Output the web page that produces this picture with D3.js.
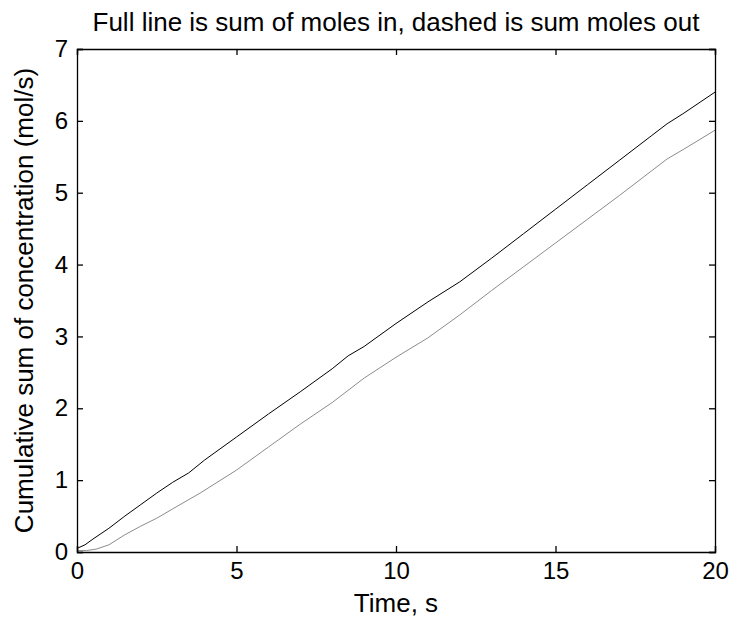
<!DOCTYPE html>
<html>
<head>
<meta charset="utf-8">
<script src="https://cdn.jsdelivr.net/npm/d3@7"></script>
<style>
  body { margin: 0; background: #fff; }
  text { font-family: "Liberation Sans", Arial, sans-serif; fill: #000; }
</style>
</head>
<body>
<svg id="chart"></svg>
<script>
// data
const timeIn = [0, 0.25, 0.5, 1, 1.5, 2, 2.5, 3, 3.5, 4, 5, 6, 7, 8, 8.5, 9, 10, 11, 12, 13, 14, 15, 16, 17, 18, 18.5, 19, 20];
const molesIn = [0.05, 0.1, 0.18, 0.33, 0.5, 0.66, 0.82, 0.97, 1.1, 1.28, 1.6, 1.92, 2.23, 2.55, 2.73, 2.86, 3.18, 3.48, 3.76, 4.09, 4.43, 4.77, 5.11, 5.45, 5.79, 5.96, 6.1, 6.4];
const timeOut = [0, 0.3, 0.6, 1, 1.5, 2, 2.5, 3, 3.86, 5, 6, 7, 8, 9, 10, 11, 12, 13, 14, 15, 16, 17, 18, 18.5, 19, 20];
const molesOut = [0.02, 0.02, 0.04, 0.1, 0.24, 0.36, 0.47, 0.6, 0.82, 1.14, 1.46, 1.78, 2.08, 2.42, 2.71, 2.98, 3.3, 3.64, 3.97, 4.3, 4.63, 4.96, 5.3, 5.47, 5.6, 5.87];
const xTicks = [0, 5, 10, 15, 20];
const yTicks = [0, 1, 2, 3, 4, 5, 6, 7];

const width = 733, height = 628;
const margin = { top: 49, right: 18, bottom: 76, left: 77 };

let svg = d3.select("#chart").attr("width", width).attr("height", height);

let x = d3.scaleLinear().domain([0, 20]).range([margin.left, width - margin.right]);
let y = d3.scaleLinear().domain([0, 7]).range([height - margin.bottom, margin.top]);

// lines
let line = d3.line().x(d => x(d[0])).y(d => y(d[1]));
svg.append("path")
  .datum(d3.zip(timeOut, molesOut))
  .attr("d", line)
  .style("fill", "none")
  .style("stroke", "#8c8c8c")
  .style("stroke-width", 1);
svg.append("path")
  .datum(d3.zip(timeIn, molesIn))
  .attr("d", line)
  .style("fill", "none")
  .style("stroke", "#000")
  .style("stroke-width", 1);

// axes, ticks drawn inward on all four sides
const tk = 6;
const fmt = d3.format("d");
svg.append("g")
  .attr("transform", `translate(0,${y(0)})`)
  .call(d3.axisBottom(x).tickValues(xTicks).tickFormat(fmt).tickSize(-tk).tickPadding(10))
  .call(g => g.selectAll("text").style("font-size", "24px").attr("dy", "0.71em"));
svg.append("g")
  .attr("transform", `translate(0,${y(7)})`)
  .call(d3.axisTop(x).tickValues(xTicks).tickSize(-tk).tickFormat(""));
svg.append("g")
  .attr("transform", `translate(${x(0)},0)`)
  .call(d3.axisLeft(y).tickValues(yTicks).tickFormat(fmt).tickSize(-tk).tickPadding(9))
  .call(g => g.selectAll("text").style("font-size", "24px"));
svg.append("g")
  .attr("transform", `translate(${x(20)},0)`)
  .call(d3.axisRight(y).tickValues(yTicks).tickSize(-tk).tickFormat(""));

svg.selectAll(".domain").style("stroke", "#000").style("stroke-width", 1.3);
svg.selectAll(".tick line").style("stroke", "#000").style("stroke-width", 1.3);
svg.selectAll(".tick text").style("font-family", "'Liberation Sans', Arial, sans-serif").style("fill", "#000");

// title and labels
svg.append("text")
  .attr("x", (x(0) + x(20)) / 2)
  .attr("y", 31)
  .attr("text-anchor", "middle")
  .style("font-size", "26px")
  .text("Full line is sum of moles in, dashed is sum moles out");

svg.append("text")
  .attr("x", (x(0) + x(20)) / 2)
  .attr("y", 612)
  .attr("text-anchor", "middle")
  .style("font-size", "26px")
  .text("Time, s");

svg.append("text")
  .attr("transform", `translate(33,${(y(0) + y(7)) / 2})rotate(-90)`)
  .attr("text-anchor", "middle")
  .style("font-size", "26px")
  .text("Cumulative sum of concentration (mol/s)");
</script>
</body>
</html>
